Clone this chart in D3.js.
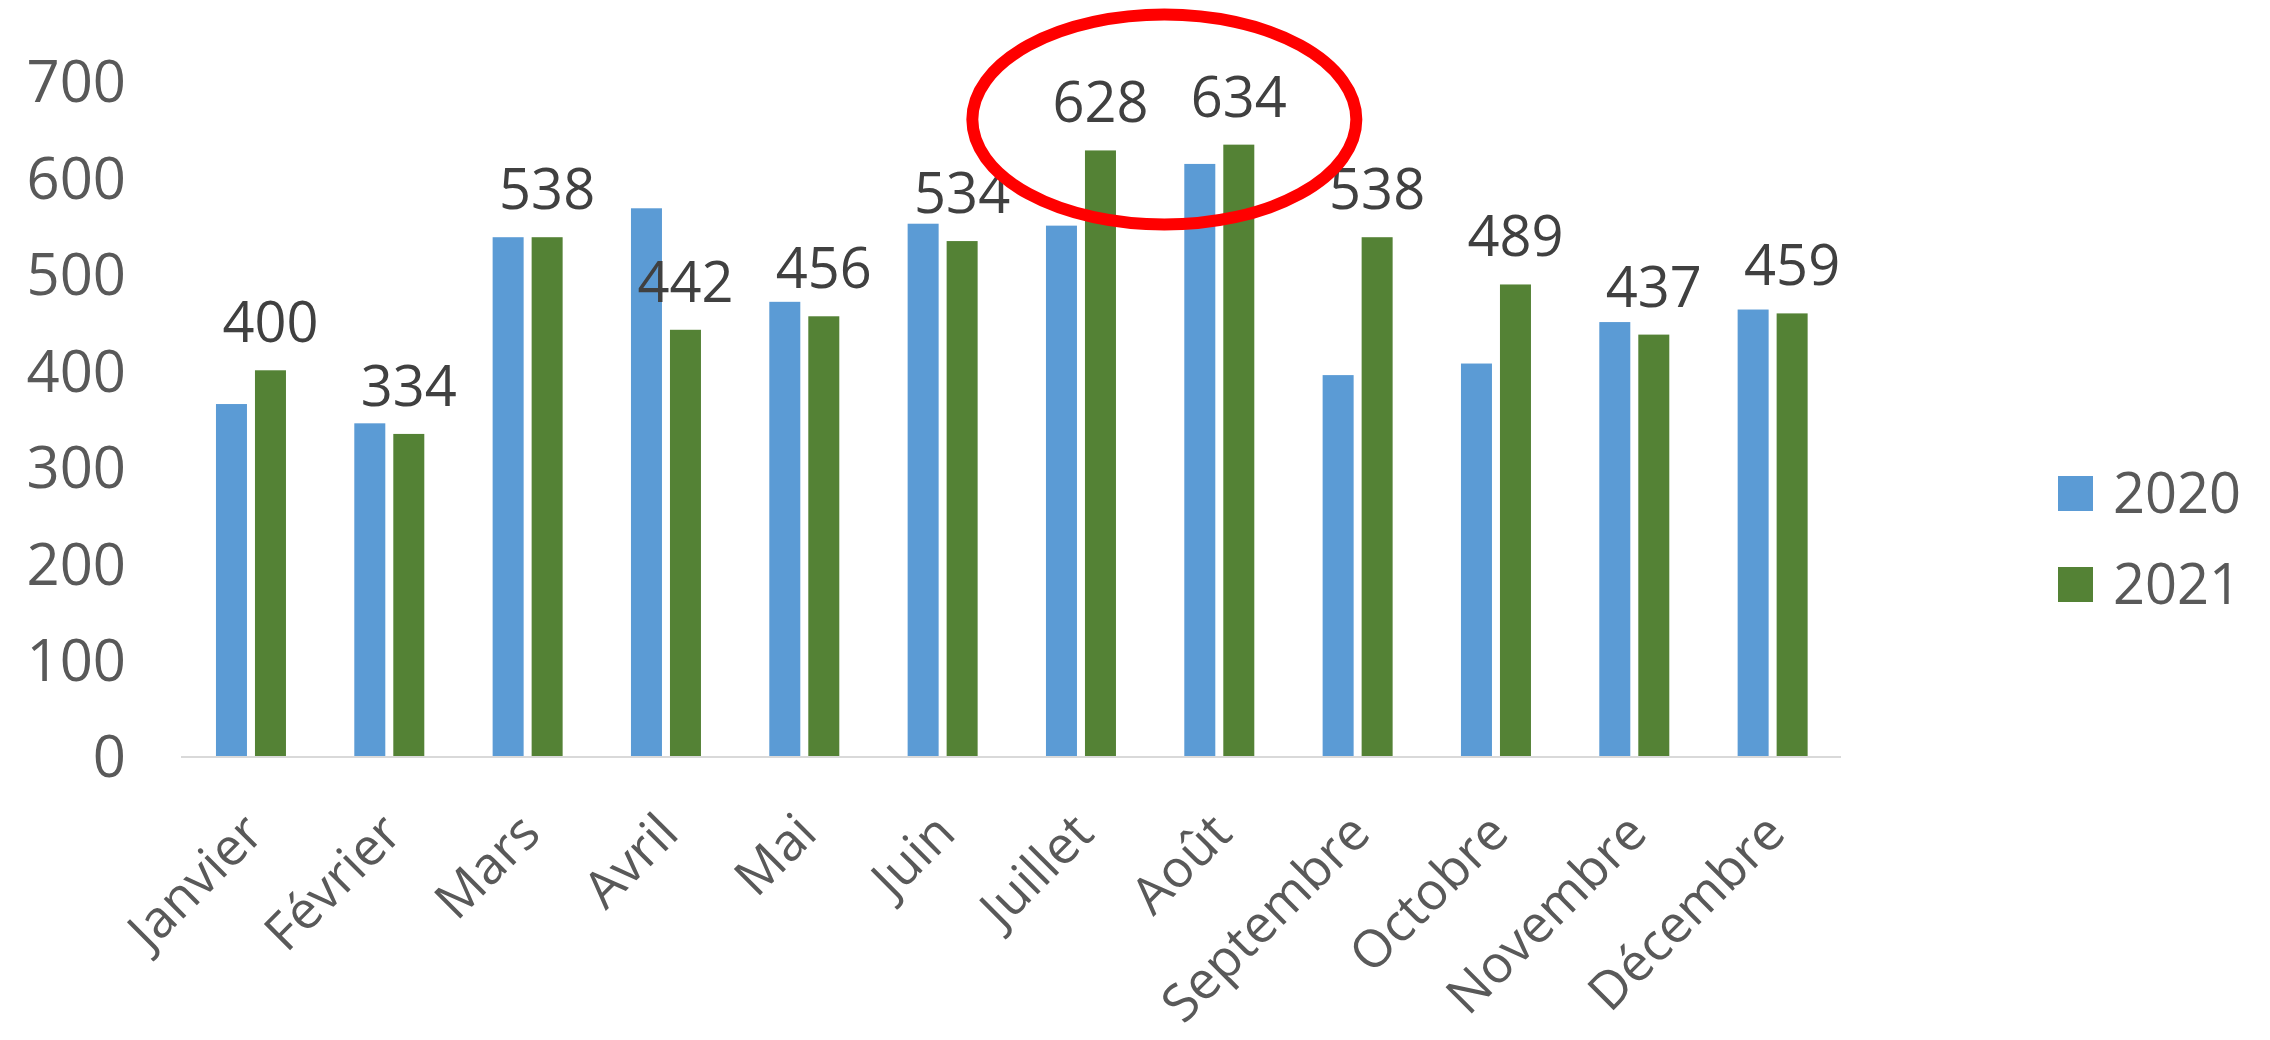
<!DOCTYPE html>
<html>
<head>
<meta charset="utf-8">
<script src="https://cdn.jsdelivr.net/npm/d3@7"></script>
<style>
  html, body { margin: 0; padding: 0; background: #fff; }
  svg { display: block; }
  text { font-family: "Open Sans", "DejaVu Sans", sans-serif; }
</style>
</head>
<body>
<svg id="chart" width="2270" height="1040"></svg>
<script>
const months = ["Janvier","Février","Mars","Avril","Mai","Juin","Juillet","Août","Septembre","Octobre","Novembre","Décembre"];
const series = ["2020","2021"];
const values2020 = [365, 345, 538, 568, 471, 552, 550, 614, 395, 407, 450, 463];
const values2021 = [400, 334, 538, 442, 456, 534, 628, 634, 538, 489, 437, 459];
const yTicks = [0, 100, 200, 300, 400, 500, 600, 700];
const colors = {"2020": "#5B9BD5", "2021": "#548235"};

const svg = d3.select("#chart");

const x = d3.scaleBand().domain(months).range([181, 1841]).padding(0);
const x1 = d3.scaleBand().domain(series).range([-35, 35]).paddingInner(8/39).paddingOuter(0);
const y = d3.scaleLinear().domain([0, 700]).range([756, 81]);

const data = months.map((m, i) => ({month: m, "2020": values2020[i], "2021": values2021[i]}));

// bars
const groups = svg.append("g").selectAll("g").data(data).join("g")
  .attr("transform", d => `translate(${x(d.month) + x.bandwidth()/2 + 0.8},0)`);
groups.selectAll("rect").data(d => series.map(s => ({s, v: d[s]}))).join("rect")
  .attr("x", d => x1(d.s))
  .attr("width", x1.bandwidth())
  .attr("y", d => y(d.v))
  .attr("height", d => y(0) - y(d.v))
  .attr("fill", d => colors[d.s]);

// baseline axis
svg.append("line")
  .attr("x1", x.range()[0]).attr("x2", x.range()[1])
  .attr("y1", y(0) + 1).attr("y2", y(0) + 1)
  .attr("stroke", "#D9D9D9").attr("stroke-width", 2);

// y axis labels
const yAxis = d3.axisLeft(y).tickValues(yTicks).tickSize(0).tickPadding(0).tickFormat(d3.format("d"));
const yg = svg.append("g").attr("transform", "translate(126,0)").call(yAxis);
yg.select(".domain").remove();
yg.selectAll("text")
  .attr("fill", "#595959")
  .style("font-size", "58px")
  .attr("dy", "0.36em");

// x axis labels
const xAxis = d3.axisBottom(x).tickSize(0).tickPadding(0);
const xg = svg.append("g").call(xAxis);
xg.select(".domain").remove();
xg.selectAll(".tick").attr("transform", d => `translate(${x(d) + x.bandwidth()/2 + 3},823)`);
xg.selectAll("text")
  .attr("fill", "#595959")
  .style("font-size", "52px")
  .attr("text-anchor", "end")
  .attr("x", 0).attr("y", 0)
  .attr("dy", "0.35em")
  .attr("transform", "rotate(-45)");

// data labels for 2021
groups.append("text")
  .attr("x", x1("2021") + x1.bandwidth()/2)
  .attr("y", d => y(d["2021"]) - 28)
  .attr("text-anchor", "middle")
  .attr("fill", "#404040")
  .style("font-size", "56px")
  .text(d => d["2021"]);

// legend
const legend = svg.append("g").attr("transform", "translate(2058,0)");
const legendY = {"2020": 493, "2021": 584};
series.forEach(s => {
  legend.append("rect")
    .attr("x", 0).attr("y", legendY[s] - 17)
    .attr("width", 35).attr("height", 35)
    .attr("fill", colors[s]);
  legend.append("text")
    .attr("x", 55).attr("y", legendY[s])
    .attr("dy", "0.36em")
    .attr("fill", "#595959")
    .style("font-size", "56px")
    .text(s);
});

// red ellipse annotation around Juillet / Août
svg.append("ellipse")
  .attr("cx", x("Août") + 15)
  .attr("cy", y(660))
  .attr("rx", 192)
  .attr("ry", 105)
  .attr("fill", "none")
  .attr("stroke", "#FF0000")
  .attr("stroke-width", 12);
</script>
</body>
</html>
